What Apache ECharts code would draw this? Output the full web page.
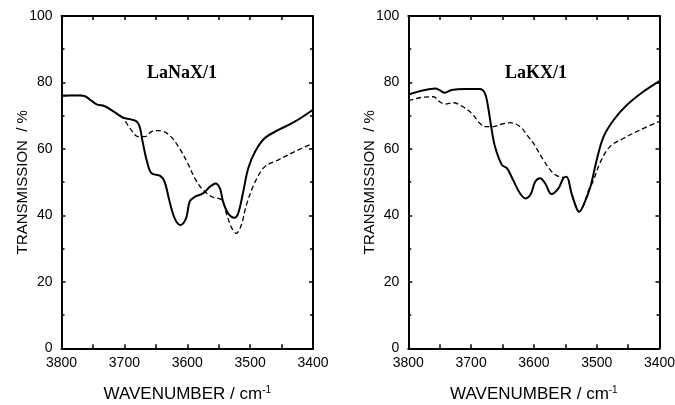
<!DOCTYPE html>
<html><head><meta charset="utf-8">
<script src="https://cdn.jsdelivr.net/npm/echarts/dist/echarts.min.js"></script>
<style>html,body{margin:0;padding:0;background:#fff}#c{width:675px;height:405px}</style>
</head><body><div id="c"></div>
<script>
// ---- tick labels ----
const xTickLabels = [3800, 3700, 3600, 3500, 3400];
const yTickLabels = [0, 20, 40, 60, 80, 100];
const panelTitles = ['LaNaX/1', 'LaKX/1'];

// ---- LaNaX/1 solid ----
const naSolidWn = [3800,3785,3770,3762,3744,3733,3718,3702,3690,3680,3675,3671,3664,3657,3643,3636,3628,3620,3611,3602,3596,3588,3575,3564,3555,3548,3543,3535,3525,3519,3511,3503,3492,3477,3455,3429,3400];
const naSolidT  = [76.0,76.1,76.1,75.8,73.4,73.0,71.4,69.4,68.9,68.2,66.2,62.2,56.2,52.7,51.9,50.1,44.1,39.1,37.1,39.1,44.2,45.6,46.6,48.6,49.6,48.1,44.1,40.6,39.3,40.6,47.1,54.2,59.2,63.2,65.7,68.2,71.8];
// ---- LaNaX/1 dashed ----
const naDashWn = [3800,3785,3770,3762,3744,3733,3718,3702,3691,3678,3667,3657,3646,3630,3614,3598,3588,3577,3561,3545,3537,3529,3522,3514,3506,3492,3477,3455,3429,3400];
const naDashT  = [76.0,76.1,76.1,75.8,73.4,73.0,71.4,69.2,66.2,63.7,63.7,65.2,65.5,64.4,60.7,55.2,51.2,48.1,45.6,44.6,40.1,36.1,34.6,37.1,43.1,50.1,54.6,56.7,59.2,61.7];
// ---- LaKX/1 solid ----
const kSolidWn = [3800,3797,3779,3757,3750,3742,3731,3710,3686,3678,3673,3668,3662,3651,3643,3633,3622,3613,3605,3598,3590,3582,3572,3561,3553,3548,3540,3532,3528,3521,3510,3500,3489,3473,3452,3426,3400];
const kSolidT  = [76.3,76.5,77.5,78.2,77.7,76.9,77.7,78.0,78.0,76.7,72.7,66.7,60.7,55.2,54.2,50.6,46.6,45.1,46.4,50.1,51.2,49.6,46.4,48.1,51.2,51.6,46.6,42.1,41.1,43.1,48.6,56.7,63.7,68.7,73.2,77.2,80.4];
// ---- LaKX/1 dashed ----
const kDashWn = [3800,3797,3779,3760,3750,3742,3728,3715,3699,3686,3678,3665,3651,3638,3622,3609,3600,3585,3569,3553,3548,3540,3532,3528,3521,3513,3505,3495,3479,3457,3431,3400];
const kDashT  = [74.6,74.7,75.5,75.7,74.2,73.5,73.9,72.9,70.7,67.7,66.7,66.7,67.5,67.9,66.7,63.7,61.5,56.7,52.7,51.4,51.6,46.6,42.1,41.1,43.1,47.5,50.6,55.7,60.7,63.2,65.7,68.3];

const zip = (a, b) => a.map((v, i) => [v, b[i]]);
const SANS = '"Liberation Sans", Arial, Helvetica, sans-serif';
const SERIF = '"Liberation Serif", "Times New Roman", serif';
const BLACK = '#000';
const xMin = Math.min(...xTickLabels), xMax = Math.max(...xTickLabels);
const yMin = Math.min(...yTickLabels), yMax = Math.max(...yTickLabels);

const grids = [
  {left: 61.5, top: 16, width: 251.5, height: 332.3, containLabel: false, outerBoundsMode: 'none'},
  {left: 408.3, top: 16, width: 251.2, height: 332.3, containLabel: false, outerBoundsMode: 'none'}
];

function xAx(gi, pos) {
  const main = pos === 'bottom';
  return {
    gridIndex: gi, type: 'value', min: xMin, max: xMax, interval: 100, inverse: true,
    position: pos,
    axisLine: {show: true, onZero: false, lineStyle: {color: BLACK, width: 2}},
    axisTick: {show: true, inside: true, length: 4, lineStyle: {color: BLACK, width: 1.5}},
    minorTick: {show: true, splitNumber: 2, length: 4, lineStyle: {color: BLACK, width: 1.5}},
    splitLine: {show: false},
    axisLabel: {show: main, color: BLACK, fontSize: 14, fontFamily: SANS, margin: 8,
      formatter: v => String(v)},
    name: main ? 'WAVENUMBER / cm{sup|-1}' : '',
    nameLocation: 'middle', nameGap: 37, nameMoveOverlap: false,
    nameTextStyle: {color: BLACK, fontSize: 17, fontFamily: SANS,
      rich: {sup: {fontSize: 10, fontFamily: SANS, color: BLACK, verticalAlign: 'top', padding: [0, 0, 8, 0]}}}
  };
}
function yAx(gi, pos) {
  const main = pos === 'left';
  return {
    gridIndex: gi, type: 'value', min: yMin, max: yMax, interval: 20,
    position: pos,
    axisLine: {show: true, onZero: false, lineStyle: {color: BLACK, width: 2}},
    axisTick: {show: true, inside: true, length: 4, lineStyle: {color: BLACK, width: 1.5}},
    minorTick: {show: true, splitNumber: 2, length: 3, lineStyle: {color: BLACK, width: 1.5}},
    splitLine: {show: false},
    axisLabel: {show: main, color: BLACK, fontSize: 14, fontFamily: SANS, margin: 9,
      formatter: v => String(v)},
    name: main ? 'TRANSMISSION  / %' : '',
    nameLocation: 'middle', nameGap: 31, nameMoveOverlap: false,
    nameTextStyle: {color: BLACK, fontSize: 15, fontFamily: SANS}
  };
}

const xAxis = [xAx(0, 'bottom'), xAx(0, 'top'), xAx(1, 'bottom'), xAx(1, 'top')];
const yAxis = [yAx(0, 'left'), yAx(0, 'right'), yAx(1, 'left'), yAx(1, 'right')];

function line(xi, yi, wn, t, dashed) {
  return {
    type: 'line', xAxisIndex: xi, yAxisIndex: yi, data: zip(wn, t),
    showSymbol: false, symbol: 'none', smooth: 0.35, silent: true,
    lineStyle: dashed ? {color: BLACK, width: 1.3, type: [5, 3]} : {color: BLACK, width: 2}
  };
}

const chart = echarts.init(document.getElementById('c'), null, {renderer: 'canvas'});
chart.setOption({
  animation: false,
  backgroundColor: '#fff',
  grid: grids,
  xAxis: xAxis,
  yAxis: yAxis,
  graphic: [
    {type: 'text', x: 182, y: 73, style: {text: panelTitles[0], fill: BLACK, font: 'bold 18px ' + SERIF, align: 'center', verticalAlign: 'middle'}},
    {type: 'text', x: 536, y: 73, style: {text: panelTitles[1], fill: BLACK, font: 'bold 18px ' + SERIF, align: 'center', verticalAlign: 'middle'}}
  ],
  series: [
    line(0, 0, naDashWn, naDashT, true),
    line(0, 0, naSolidWn, naSolidT, false),
    line(2, 2, kDashWn, kDashT, true),
    line(2, 2, kSolidWn, kSolidT, false)
  ]
});
</script>
</body></html>
